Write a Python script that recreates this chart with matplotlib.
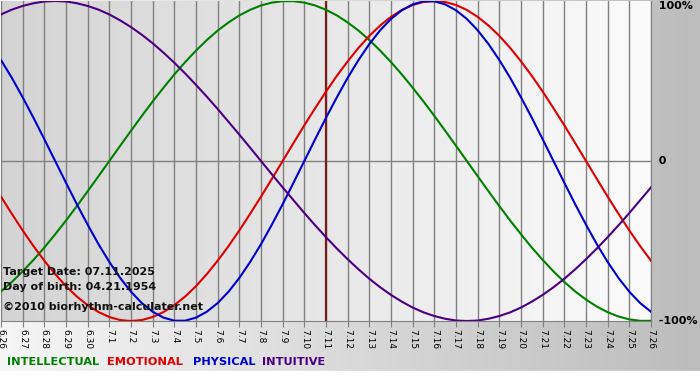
import numpy as np
import matplotlib
matplotlib.use("Agg")
import matplotlib.pyplot as plt
from matplotlib.colors import LinearSegmentedColormap
from matplotlib.patches import Rectangle

# days shown on the chart (6.26 - 7.26)
day_labels = ["6.26", "6.27", "6.28", "6.29", "6.30",
              "7.1", "7.2", "7.3", "7.4", "7.5", "7.6", "7.7", "7.8", "7.9", "7.10",
              "7.11", "7.12", "7.13", "7.14", "7.15", "7.16", "7.17", "7.18", "7.19",
              "7.20", "7.21", "7.22", "7.23", "7.24", "7.25", "7.26"]
target_label = "7.11"

# cycle values read every half day from 6.26 to 7.26 (-1 .. 1)
physical = [0.631, 0.520, 0.398, 0.270, 0.136, 0.0, -0.136, -0.270, -0.398, -0.520,
            -0.631, -0.731, -0.817, -0.888, -0.942, -0.979, -0.998, -0.998, -0.979, -0.942,
            -0.888, -0.817, -0.731, -0.631, -0.520, -0.398, -0.270, -0.136, 0.0, 0.136,
            0.270, 0.398, 0.520, 0.631, 0.731, 0.817, 0.888, 0.942, 0.979, 0.998,
            0.998, 0.979, 0.942, 0.888, 0.817, 0.731, 0.631, 0.520, 0.398, 0.270,
            0.136, 0.0, -0.136, -0.270, -0.398, -0.520, -0.631, -0.731, -0.817, -0.888, -0.942]
emotional = [-0.223, -0.330, -0.434, -0.532, -0.623, -0.707, -0.782, -0.847, -0.901, -0.944,
             -0.975, -0.994, -1.0, -0.994, -0.975, -0.944, -0.901, -0.847, -0.782, -0.707,
             -0.623, -0.532, -0.434, -0.330, -0.223, -0.112, 0.0, 0.112, 0.223, 0.330,
             0.434, 0.532, 0.623, 0.707, 0.782, 0.847, 0.901, 0.944, 0.975, 0.994,
             1.0, 0.994, 0.975, 0.944, 0.901, 0.847, 0.782, 0.707, 0.623, 0.532,
             0.434, 0.330, 0.223, 0.112, 0.0, -0.112, -0.223, -0.330, -0.434, -0.532, -0.623]
intellectual = [-0.815, -0.756, -0.690, -0.618, -0.541, -0.458, -0.372, -0.282, -0.189, -0.095,
                0.0, 0.095, 0.189, 0.282, 0.372, 0.458, 0.541, 0.618, 0.690, 0.756,
                0.815, 0.866, 0.910, 0.945, 0.972, 0.990, 0.999, 0.999, 0.990, 0.972,
                0.945, 0.910, 0.866, 0.815, 0.756, 0.690, 0.618, 0.541, 0.458, 0.372,
                0.282, 0.189, 0.095, 0.0, -0.095, -0.189, -0.282, -0.372, -0.458, -0.541,
                -0.618, -0.690, -0.756, -0.815, -0.866, -0.910, -0.945, -0.972, -0.990, -0.999, -0.999]
intuitive = [0.916, 0.946, 0.969, 0.986, 0.997, 1.0, 0.997, 0.986, 0.969, 0.946,
             0.916, 0.879, 0.837, 0.789, 0.736, 0.677, 0.614, 0.547, 0.476, 0.402,
             0.325, 0.245, 0.165, 0.083, 0.0, -0.083, -0.165, -0.245, -0.325, -0.402,
             -0.476, -0.547, -0.614, -0.677, -0.736, -0.789, -0.837, -0.879, -0.916, -0.946,
             -0.969, -0.986, -0.997, -1.0, -0.997, -0.986, -0.969, -0.946, -0.916, -0.879,
             -0.837, -0.789, -0.736, -0.677, -0.614, -0.547, -0.476, -0.402, -0.325, -0.245, -0.165]

series_names = ["INTELLECTUAL", "EMOTIONAL", "PHYSICAL", "INTUITIVE"]
series_colors = ["#008000", "#e00000", "#0000d0", "#4b0082"]
legend_x = [7, 107, 193, 262]  # pixel positions of the legend words

W, H = 700, 380
fig = plt.figure(figsize=(7, 3.8), dpi=100)

# page background gradient
grad = np.linspace(0, 1, 256).reshape(1, -1)
bg = fig.add_axes([0, 0, 1, 1], zorder=-10)
bg.imshow(grad, cmap=LinearSegmentedColormap.from_list("page", ["#f6f6f6", "#bcbcbc"]),
          aspect="auto", extent=[0, 1, 0, 1])
bg.add_patch(Rectangle((0, 0), 1, 9 / H, color="white"))
bg.set_xlim(0, 1)
bg.set_ylim(0, 1)
bg.axis("off")

# plotting area
ax = fig.add_axes([1 / W, 59 / H, 650 / W, 320 / H])
x = np.arange(len(day_labels))
xs = np.arange(len(physical)) * 0.5   # half-day sample positions
ax.imshow(grad, cmap=LinearSegmentedColormap.from_list("plot", ["#d4d4d4", "#fbfbfb"]),
          aspect="auto", extent=[x[0], x[-1], -1, 1], zorder=0)

ax.set_xticks(x)
ax.set_xticklabels(day_labels, rotation=270, fontsize=6.5)
ax.grid(axis="x", color="#808080", lw=1, zorder=1)
ax.axhline(0, color="#808080", lw=1, zorder=1)
ax.tick_params(axis="x", length=4, color="#808080", pad=2)
ax.set_yticks([])
for s in ["top", "left"]:
    ax.spines[s].set_visible(False)
for s in ["bottom", "right"]:
    ax.spines[s].set_color("#808080")

ax.axvline(day_labels.index(target_label), color="#7a1c1c", lw=1.6, zorder=2)

for vals, c in zip([intellectual, emotional, physical, intuitive], series_colors):
    ax.plot(xs, vals, color=c, lw=1.5, zorder=3)

ax.set_xlim(x[0], x[-1])
ax.set_ylim(-1, 1)

# right side labels
for yv, txt, va in [(1, "100%", "top"), (0, "0", "center"), (-1, "-100%", "center")]:
    ax.text(1.0, yv, "  " + txt, transform=ax.get_yaxis_transform(), ha="left", va=va,
            fontsize=8, fontweight="bold", clip_on=False)

# info texts
info = ["Target Date: 07.11.2025", "Day of birth: 04.21.1954", "\u00a92010 biorhythm-calculater.net"]
for txt, yp in zip(info, [272, 287, 307]):
    fig.text(3 / W, 1 - yp / H, txt, ha="left", va="center", fontsize=8, fontweight="bold",
             color="#111111")

# legend words
for name, c, xp in zip(series_names, series_colors, legend_x):
    fig.text(xp / W, 1 - 362 / H, name, ha="left", va="center", fontsize=8.2,
             fontweight="bold", color=c)

fig.savefig("out.png", dpi=100)
